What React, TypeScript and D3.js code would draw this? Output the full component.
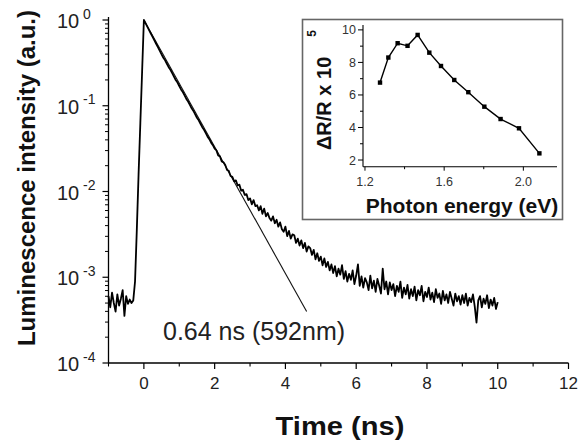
import React from "react";
import * as d3 from "d3";

// Main chart: luminescence decay (time in ns, log10 of intensity)
const timeNs = [
  -1, -0.95, -0.9, -0.85, -0.8, -0.75, -0.7, -0.65, -0.6, -0.55, -0.5, -0.45, -0.4, -0.35, -0.3, -0.25, -0.2, -0.15, -0.1, -0.05,
  0, 0.05, 0.1, 0.15, 0.2, 0.25, 0.3, 0.35, 0.4, 0.45, 0.5, 0.55, 0.6, 0.65, 0.7, 0.75, 0.8, 0.85, 0.9, 0.95,
  1, 1.05, 1.1, 1.15, 1.2, 1.25, 1.3, 1.35, 1.4, 1.45, 1.5, 1.55, 1.6, 1.65, 1.7, 1.75, 1.8, 1.85, 1.9, 1.95,
  2, 2.05, 2.1, 2.15, 2.2, 2.25, 2.3, 2.35, 2.4, 2.45, 2.5, 2.55, 2.6, 2.65, 2.7, 2.75, 2.8, 2.85, 2.9, 2.95,
  3, 3.05, 3.1, 3.15, 3.2, 3.25, 3.3, 3.35, 3.4, 3.45, 3.5, 3.55, 3.6, 3.65, 3.7, 3.75, 3.8, 3.85, 3.9, 3.95,
  4, 4.05, 4.1, 4.15, 4.2, 4.25, 4.3, 4.35, 4.4, 4.45, 4.5, 4.55, 4.6, 4.65, 4.7, 4.75, 4.8, 4.85, 4.9, 4.95,
  5, 5.05, 5.1, 5.15, 5.2, 5.25, 5.3, 5.35, 5.4, 5.45, 5.5, 5.55, 5.6, 5.65, 5.7, 5.75, 5.8, 5.85, 5.9, 5.95,
  6, 6.05, 6.1, 6.15, 6.2, 6.25, 6.3, 6.35, 6.4, 6.45, 6.5, 6.55, 6.6, 6.65, 6.7, 6.75, 6.8, 6.85, 6.9, 6.95,
  7, 7.05, 7.1, 7.15, 7.2, 7.25, 7.3, 7.35, 7.4, 7.45, 7.5, 7.55, 7.6, 7.65, 7.7, 7.75, 7.8, 7.85, 7.9, 7.95,
  8, 8.05, 8.1, 8.15, 8.2, 8.25, 8.3, 8.35, 8.4, 8.45, 8.5, 8.55, 8.6, 8.65, 8.7, 8.75, 8.8, 8.85, 8.9, 8.95,
  9, 9.05, 9.1, 9.15, 9.2, 9.25, 9.3, 9.35, 9.4, 9.45, 9.5, 9.55, 9.6, 9.65, 9.7, 9.75, 9.8, 9.85, 9.9, 9.95,
  10,
];

const log10Lum = [
  -3.22, -3.35, -3.18, -3.3, -3.4, -3.2, -3.33, -3.25, -3.15, -3.45, -3.22, -3.31, -3.26, -3.3, -3.27,
  -3.05, -2.45, -1.8, -1.2, -0.6, 0,
  -0.04, -0.08, -0.12, -0.16, -0.2, -0.24, -0.28, -0.32, -0.36, -0.4,
  -0.44, -0.47, -0.51, -0.55, -0.58, -0.62, -0.66, -0.7, -0.73, -0.77,
  -0.81, -0.84, -0.88, -0.92, -0.95, -0.99, -1.03, -1.06, -1.1, -1.14,
  -1.17, -1.21, -1.25, -1.28, -1.32, -1.36, -1.39, -1.43, -1.46, -1.5,
  -1.52, -1.58, -1.59, -1.65, -1.66, -1.69, -1.75, -1.76, -1.82, -1.83,
  -1.88, -1.87, -1.93, -1.92, -1.99, -1.98, -2.04, -2.03, -2.1, -2.08,
  -2.15, -2.1, -2.17, -2.16, -2.22, -2.17, -2.26, -2.2, -2.29, -2.25,
  -2.31, -2.34, -2.29, -2.37, -2.33, -2.41, -2.36, -2.44, -2.47, -2.41,
  -2.52, -2.46, -2.55, -2.5, -2.51, -2.6, -2.55, -2.63, -2.57, -2.66,
  -2.6, -2.7, -2.64, -2.66, -2.74, -2.68, -2.79, -2.72, -2.81, -2.76,
  -2.86, -2.78, -2.88, -2.82, -2.92, -2.85, -2.95, -2.87, -2.99, -2.9,
  -2.97, -2.86, -3.02, -2.93, -3.05, -2.96, -3.03, -2.92, -3.08, -2.98,
  -2.85, -3.1, -2.99, -3.12, -3.01, -3.06, -3.15, -2.98, -3.13, -3.04,
  -3.17, -3.02, -3.1, -3.19, -2.9, -3.14, -3.05, -3.2, -3.06, -3.15,
  -3.08, -3.22, -3.1, -3.17, -3.05, -3.24, -3.12, -3.2, -3.09, -3.25,
  -3.14, -3.22, -3.11, -3.27, -3.15, -3.21, -3.1, -3.28, -3.17, -3.23,
  -3.12, -3.26, -3.18, -3.29, -3.14, -3.24, -3.19, -3.31, -3.16, -3.27,
  -3.2, -3.3, -3.17, -3.25, -3.33, -3.19, -3.28, -3.22, -3.32, -3.21,
  -3.3, -3.19, -3.33, -3.24, -3.29, -3.2, -3.34, -3.53, -3.27, -3.22,
  -3.35, -3.25, -3.31, -3.21, -3.36, -3.26, -3.33, -3.24, -3.37, -3.29,
];

// single-exponential fit line (0.64 ns)
const fitTimeNs = [0, 4.6];
const fitLog10Lum = [0, -3.4];

const xMajorTicks = [0, 2, 4, 6, 8, 10, 12];
const xMinorTicks = [-1, 1, 3, 5, 7, 9, 11];
const yDecadeExps = [0, -1, -2, -3, -4];
const annotation = "0.64 ns (592nm)";

// Inset: ΔR/R vs photon energy
const insetEnergyEV = [1.276, 1.318, 1.365, 1.415, 1.466, 1.525, 1.584, 1.651, 1.722, 1.803, 1.885, 1.978, 2.081];
const insetDeltaR = [6.76, 8.3, 9.18, 9.02, 9.69, 8.6, 7.78, 6.92, 6.17, 5.28, 4.52, 3.95, 2.41];
const insetXTicks = [1.2, 1.6, 2.0];
const insetXMinor = [1.4, 1.8];
const insetYTicks = [2, 4, 6, 8, 10];
const insetYMinor = [3, 5, 7, 9];

const FONT = "'Liberation Sans', Arial, Helvetica, sans-serif";

export default function App() {
  const x = d3.scaleLinear().domain([-1, 12]).range([108.5, 568.5]);
  const y = d3.scaleLog().domain([1e-4, 1]).range([363, 20]);

  const data: [number, number][] = timeNs.map((t, i) => [t, Math.pow(10, log10Lum[i])]);
  const fit: [number, number][] = fitTimeNs.map((t, i) => [t, Math.pow(10, fitLog10Lum[i])]);
  const line = d3
    .line<[number, number]>()
    .x((d) => x(d[0]))
    .y((d) => y(d[1]));

  const yMinor: number[] = [];
  for (let k = -4; k < 0; k++) for (let m = 2; m <= 9; m++) yMinor.push(m * Math.pow(10, k));

  // inset scales
  const ix = d3.scaleLinear().domain([1.19, 2.17]).range([363, 557]);
  const iy = d3.scaleLinear().domain([1.59, 10.3]).range([166.7, 25]);
  const insetPts: [number, number][] = insetEnergyEV.map((e, i) => [e, insetDeltaR[i]]);
  const iline = d3
    .line<[number, number]>()
    .x((d) => ix(d[0]))
    .y((d) => iy(d[1]));

  const x0 = x.range()[0];
  const yB = y.range()[0];

  return (
    <svg
      width={580}
      height={444}
      style={{ position: "absolute", left: 0, top: 0, background: "#fff" }}
      fontFamily={FONT}
    >
      {/* main axes */}
      <line x1={x0} x2={x(12)} y1={yB} y2={yB} stroke="#000" strokeWidth={1.3} />
      <line x1={x0} x2={x0} y1={yB} y2={17} stroke="#000" strokeWidth={1.3} />
      {xMajorTicks.map((t) => (
        <g key={"xt" + t}>
          <line x1={x(t)} x2={x(t)} y1={yB} y2={yB + 6} stroke="#000" strokeWidth={1.2} />
          <text x={x(t)} y={yB + 26} fontSize={17} textAnchor="middle" fill="#222">
            {t}
          </text>
        </g>
      ))}
      {xMinorTicks.map((t) => (
        <line key={"xm" + t} x1={x(t)} x2={x(t)} y1={yB} y2={yB + 3.5} stroke="#000" strokeWidth={1.1} />
      ))}
      {yDecadeExps.map((e) => {
        const yy = y(Math.pow(10, e));
        return (
          <g key={"yt" + e}>
            <line x1={x0 - 6} x2={x0} y1={yy} y2={yy} stroke="#000" strokeWidth={1.2} />
            <text x={57} y={yy + 8} fontSize={20} fill="#222">
              10
            </text>
            <text x={83} y={yy - 1.5} fontSize={14} fill="#222">
              {e}
            </text>
          </g>
        );
      })}
      {yMinor.map((v, i) => (
        <line key={"ym" + i} x1={x0 - 3.5} x2={x0} y1={y(v)} y2={y(v)} stroke="#000" strokeWidth={1} />
      ))}

      {/* axis titles */}
      <text
        transform={`translate(35,178) rotate(-90)`}
        fontSize={24}
        fontWeight="bold"
        textAnchor="middle"
        fill="#111"
      >
        Luminescence intensity (a.u.)
      </text>
      <text
        transform="translate(340,435) scale(1.12,1)"
        fontSize={26}
        fontWeight="bold"
        textAnchor="middle"
        fill="#111"
      >
        Time (ns)
      </text>

      {/* curves */}
      <path d={line(fit) || ""} fill="none" stroke="#111" strokeWidth={1.1} />
      <path d={line(data) || ""} fill="none" stroke="#000" strokeWidth={1.8} strokeLinejoin="round" />

      <text x={163} y={339.5} fontSize={25} fill="#222">
        {annotation}
      </text>

      {/* inset */}
      <rect x={302.5} y={19.5} width={260} height={200} fill="#fff" stroke="#666" strokeWidth={1.6} />
      <line x1={ix.range()[0]} x2={ix.range()[1]} y1={iy.range()[0]} y2={iy.range()[0]} stroke="#000" strokeWidth={1.1} />
      <line x1={ix.range()[0]} x2={ix.range()[0]} y1={iy.range()[0]} y2={iy.range()[1]} stroke="#000" strokeWidth={1.1} />
      {insetXTicks.map((t) => (
        <g key={"ixt" + t}>
          <line x1={ix(t)} x2={ix(t)} y1={iy.range()[0]} y2={iy.range()[0] + 4} stroke="#000" />
          <text x={ix(t)} y={iy.range()[0] + 19} fontSize={12.5} textAnchor="middle" fill="#333">
            {t.toFixed(1)}
          </text>
        </g>
      ))}
      {insetXMinor.map((t) => (
        <line key={"ixm" + t} x1={ix(t)} x2={ix(t)} y1={iy.range()[0]} y2={iy.range()[0] + 2.5} stroke="#000" />
      ))}
      {insetYTicks.map((t) => (
        <g key={"iyt" + t}>
          <line x1={ix.range()[0] - 5} x2={ix.range()[0]} y1={iy(t)} y2={iy(t)} stroke="#000" />
          <text x={ix.range()[0] - 7} y={iy(t) + 4.5} fontSize={12.5} textAnchor="end" fill="#333">
            {t}
          </text>
        </g>
      ))}
      {insetYMinor.map((t) => (
        <line key={"iym" + t} x1={ix.range()[0] - 3} x2={ix.range()[0]} y1={iy(t)} y2={iy(t)} stroke="#000" />
      ))}
      <path d={iline(insetPts) || ""} fill="none" stroke="#000" strokeWidth={1.4} />
      {insetPts.map((p, i) => (
        <rect key={"ip" + i} x={ix(p[0]) - 2.2} y={iy(p[1]) - 2.2} width={4.4} height={4.4} fill="#000" />
      ))}
      <text transform="translate(331,150) rotate(-90)" fontSize={20} fontWeight="bold" fill="#111">
        ΔR/R  x 10
        <tspan fontSize={12} dx={20} dy={-15}>
          5
        </tspan>
      </text>
      <text x={462} y={213} fontSize={21} fontWeight="bold" textAnchor="middle" fill="#111">
        Photon energy (eV)
      </text>
    </svg>
  );
}
